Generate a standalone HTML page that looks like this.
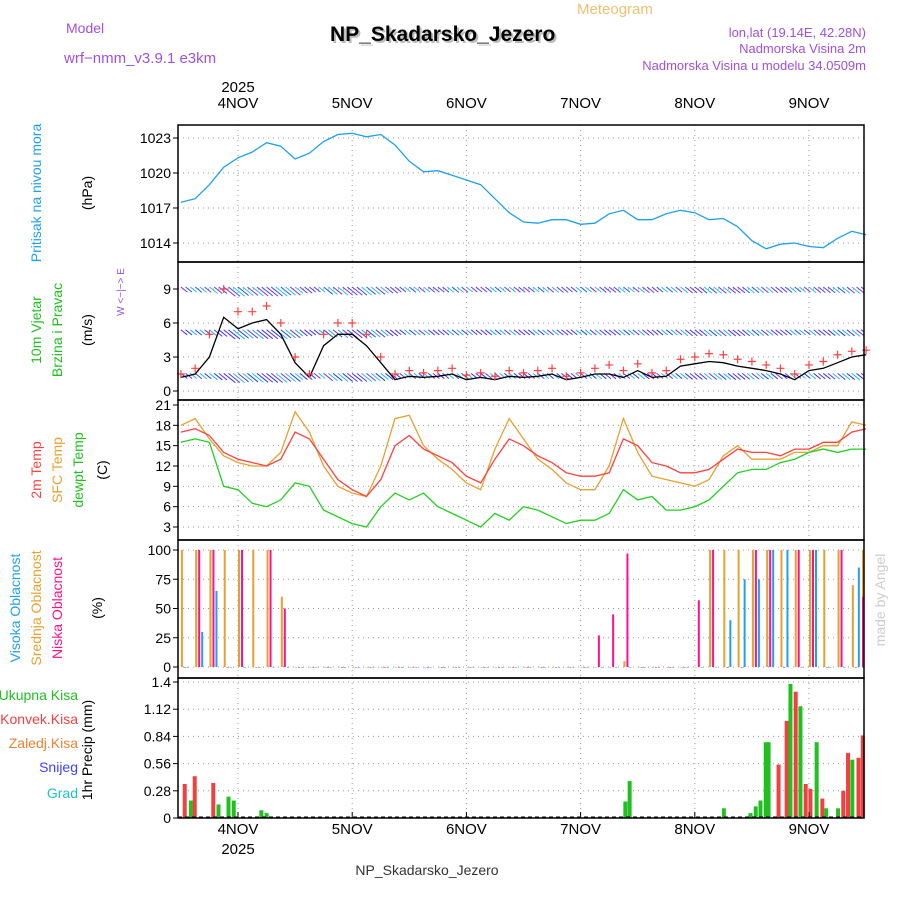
<!DOCTYPE html>
<html><head><meta charset="utf-8"><style>
body{margin:0;background:#fff}
svg text{font-family:"Liberation Sans",sans-serif}
</style></head><body>
<svg id="c" width="900" height="900" xmlns="http://www.w3.org/2000/svg">
<defs><clipPath id="windclip"><rect x="178" y="262" width="686" height="138"/></clipPath></defs>
<text x="66" y="33" fill="#a050e0" font-size="14">Model</text>
<text x="64" y="63" fill="#a050e0" font-size="15" font-family="Liberation Mono">wrf−nmm_v3.9.1 e3km</text>
<text x="577" y="14" fill="#f0c070" font-size="15">Meteogram</text>
<text x="332" y="43" fill="#bbb" font-size="21" font-weight="bold" font-family="Liberation Mono">NP_Skadarsko_Jezero</text>
<text x="330" y="41" fill="#000" font-size="21" font-weight="bold" font-family="Liberation Mono">NP_Skadarsko_Jezero</text>
<text x="866" y="37" fill="#a050e0" font-size="13" text-anchor="end">lon,lat (19.14E, 42.28N)</text>
<text x="866" y="53" fill="#a050e0" font-size="13" text-anchor="end">Nadmorska Visina 2m</text>
<text x="866" y="70" fill="#a050e0" font-size="13" text-anchor="end">Nadmorska Visina u modelu 34.0509m</text>
<text x="427" y="875" fill="#333" font-size="14" text-anchor="middle" font-family="Liberation Mono">NP_Skadarsko_Jezero</text>
<text x="885" y="600" fill="#ccc" font-size="14" text-anchor="middle" transform="rotate(-90 885 600)" font-family="Liberation Serif">made by Angel</text>
</svg>
<script>
const hours=[];for(let h=-12;h<=132;h+=3)hours.push(h);
const dayLabels=["4NOV","5NOV","6NOV","7NOV","8NOV","9NOV"];
const dayHours=[0,24,48,72,96,120];
const pressure=[1017.5,1017.8,1019,1020.5,1021.3,1021.8,1022.6,1022.3,1021.2,1021.7,1022.7,1023.3,1023.4,1023.1,1023.3,1022.4,1021,1020.1,1020.2,1019.8,1019.4,1019,1017.8,1016.6,1015.8,1015.7,1016,1016,1015.6,1015.7,1016.5,1016.8,1016,1016,1016.5,1016.8,1016.6,1016,1016.1,1015.4,1014.2,1013.5,1013.9,1014,1013.7,1013.6,1014.4,1015,1014.7];
const pressTicks=[1014,1017,1020,1023];
const windSpeed=[1.2,1.5,3,6.5,5.5,6,6.3,5,2.5,1.2,4,5,5,4,2.5,1,1.3,1.2,1.3,1.5,1,1.2,1,1.3,1.2,1.3,1.5,1,1.2,1.5,1.5,1.2,1.8,1.2,1.3,2.2,2.4,2.6,2.5,2.2,2,1.8,1.5,1,1.8,2,2.5,3,3.2];
const windGust=[1.5,2,5,9,7,7,7.5,6,3,1.5,5,6,6,5,3,1.5,1.8,1.6,1.8,2,1.4,1.6,1.3,1.8,1.6,1.8,2,1.3,1.6,2,2.3,1.8,2.4,1.6,1.8,2.8,3,3.3,3.2,2.8,2.6,2.3,2,1.5,2.3,2.6,3.2,3.5,3.6];
const windTicks=[0,3,6,9];
const temp2m=[17,17.5,16.5,14,13,12.5,12,13,17,16,13,10,8.5,7.5,10,15,16.5,14.5,13.5,12.5,10.5,9.5,13,16,15,13.5,12.5,11,10.5,10.5,11,16,15,12.5,12,11,11,11.5,13,14.5,14,14,13.5,14.5,14.5,15.5,15.5,17,17.5];
const tempSfc=[18,19,16,13.5,12.5,12,12,14,20,17,12,9,8,7.5,12,19,19.5,15,13,11.5,9.5,8.5,14.5,19,16,13,11.5,9.5,8.5,8.5,12,19,14,10.5,10,9.5,9,10,13.5,15,13,13,13,14,14,15,15,18.5,18];
const dewpt=[15.5,16,15.5,9,8.5,6.5,6,7,9.5,9,5.5,4.5,3.5,3,6,8,7,8,6,5,4,3,5,4,6,5.5,4.5,3.5,4,4,5,8.5,7,7.5,5.5,5.5,6,7,9,11,11.5,11.5,12.5,13,14,14.5,14,14.5,14.5];
const tempTicks=[3,6,9,12,15,18,21];
const cloudHigh=[0,30,65,0,0,0,0,0,0,0,0,0,0,0,0,0,0,0,0,0,0,0,0,0,0,0,0,0,0,0,0,0,0,0,0,0,0,0,40,75,75,100,100,0,100,0,0,85,0];
const cloudMid=[100,100,100,100,100,100,100,60,0,0,0,0,0,0,0,0,0,0,0,0,0,0,0,0,0,0,0,0,0,0,0,5,0,0,0,0,0,100,100,100,100,100,100,100,100,100,100,70,100];
const cloudLow=[0,100,100,0,100,0,100,50,0,0,0,0,0,0,0,0,0,0,0,0,0,0,0,0,0,0,0,0,0,27,45,97,0,0,0,0,57,100,0,0,100,100,0,100,100,0,100,0,60];
const cloudTicks=[0,25,50,75,100];
const precipHours=[-11.3,-10,-9.2,-5.3,-4.2,-2.1,-1,4.8,5.9,81.3,82.2,102,107.6,108.7,109.7,110.8,111.4,113.5,115.2,116,117.1,118.1,119.2,120.2,121.5,122.7,123.5,126,127.1,128.1,129,130.3,131.2];
const precipTotal=[0,0.18,0,0,0.14,0.22,0.18,0.08,0.05,0.17,0.38,0.1,0.05,0.12,0.18,0.78,0.78,0,0,1.38,0,1.15,0,0,0.78,0,0.1,0.1,0,0,0.6,0,0];
const precipConv=[0.35,0,0.43,0.36,0,0,0,0,0,0,0,0,0,0,0,0,0,0.55,1.0,0,1.3,0,0.35,0.3,0,0.2,0,0,0.28,0.67,0,0.62,0.85];
const precipTicks=[0,0.28,0.56,0.84,1.12,1.4];

const NS="http://www.w3.org/2000/svg",svg=document.getElementById('c');
const X0=178,X1=864;
const xs=h=>238+h*114.2/24;
function el(t,a,p){const e=document.createElementNS(NS,t);for(const k in a)e.setAttribute(k,a[k]);(p||svg).appendChild(e);return e;}
function lin(d0,d1,r0,r1){return v=>r0+(v-d0)*(r1-r0)/(d1-d0);}
const panels=[
 {y0:125,y1:262,ys:lin(1014,1023,243,138),ticks:pressTicks,fmt:v=>v,name:'pressure'},
 {y0:262,y1:400,ys:lin(0,9,391,289),ticks:windTicks,fmt:v=>v,name:'wind'},
 {y0:400,y1:540,ys:lin(3,21,527,405),ticks:tempTicks,fmt:v=>v,name:'temperature'},
 {y0:540,y1:678,ys:lin(0,100,667,550),ticks:cloudTicks,fmt:v=>v,name:'cloud'},
 {y0:678,y1:818,ys:lin(0,1.4,818,682),ticks:precipTicks,fmt:v=>v,name:'precip'}];
panels.forEach(p=>{
 dayHours.forEach(h=>{const l=el('line',{x1:xs(h),x2:xs(h),y1:p.y0,y2:p.y1,stroke:'#999','stroke-dasharray':'1,4'});
 
 });
 p.ticks.forEach(v=>{const y=p.ys(v);
  if(!(p.name=='precip'&&v==0)){const g=el('line',{x1:X0,x2:X1,y1:y,y2:y,stroke:'#999','stroke-dasharray':'1,4'});
  
  }
  el('line',{x1:X0-5,x2:X0,y1:y,y2:y,stroke:'#000'});
  const t=el('text',{x:X0-7,y:y+5,'text-anchor':'end','font-size':14});t.textContent=p.fmt(v);
  
  });
});
function line(arr,ys,color,name){const d=arr.map((v,i)=>(i?'L':'M')+xs(hours[i]).toFixed(1)+','+ys(v).toFixed(1)).join('');
 const p=el('path',{d:d,fill:'none',stroke:color,'stroke-width':1.3});
 
 return p;}
line(pressure,panels[0].ys,'#1ea0f0','pressure-line');
const rows=[{v:9,y:-2,c:['#8a2be2','#3050ff','#20c8d0']},{v:5.4,y:0,c:['#7030e0','#3040ff','#20b8d8']},{v:1.2,y:-4,c:['#2030ff','#7030e0','#20c0e0']}];
const g=el('g',{'clip-path':'url(#windclip)'});


hours.forEach((h,i)=>{rows.forEach((r,k)=>{for(let j=0;j<3;j++){const x=xs(h)+j*4.7;const y=panels[1].ys(r.v)+r.y;
 const len=7+windSpeed[i]*1.3;
 const a=el('line',{x1:x,y1:y,x2:x+len*0.75,y2:y+len*0.6,stroke:r.c[(i+j)%3],'stroke-width':1},g);
 
 }});});
line(windSpeed,panels[1].ys,'#000','wind-speed-line');
windGust.forEach((v,i)=>{const x=xs(hours[i]),y=panels[1].ys(v);
 const g2=el('path',{d:`M${x-4},${y}h8M${x},${y-4}v8`,stroke:'#ff4040','stroke-width':1.2});
 
 });
line(tempSfc,panels[2].ys,'#e8a030','sfc-temp-line');
line(temp2m,panels[2].ys,'#ff4040','temp-2m-line');
line(dewpt,panels[2].ys,'#20d020','dewpoint-line');
const cy=panels[3].ys;
hours.forEach((h,i)=>{[[cloudMid,'#e8a030',0,'mid-cloud-bar'],[cloudLow,'#ff1090',3,'low-cloud-bar'],[cloudHigh,'#20a0f0',6,'high-cloud-bar']].forEach(s=>{
 const v=s[0][i];const x=Math.min(xs(h)+s[2],X1-2);
 const b=el('rect',{x:x,y:cy(v),width:2,height:Math.max(cy(0)-cy(v),0.6),fill:s[1]});
 
 });});
const py=panels[4].ys;
precipHours.forEach((h,i)=>{const x=xs(h);
 if(precipTotal[i]>0){const b=el('rect',{x:x-1.5,y:py(precipTotal[i]),width:4,height:py(0)-py(precipTotal[i]),fill:'#20c020'});
 
 }
 if(precipConv[i]>0){const b=el('rect',{x:x-1.5,y:py(precipConv[i]),width:4,height:py(0)-py(precipConv[i]),fill:'#f04040'});
 
 }});
el('line',{x1:X0,x2:X1,y1:817,y2:817,stroke:'#000','stroke-dasharray':'4,3'});
panels.forEach(p=>{const r=el('rect',{x:X0,y:p.y0,width:X1-X0,height:p.y1-p.y0,fill:'none',stroke:'#000','stroke-width':1.5});
 
 });
dayHours.forEach((h,i)=>{[[108,'top'],[834,'bottom']].forEach(a=>{const t=el('text',{x:xs(h),y:a[0],'text-anchor':'middle','font-size':15});t.textContent=dayLabels[i];
 
 });
 el('line',{x1:xs(h),x2:xs(h),y1:818,y2:812,stroke:'#000'});});
[[92,'year-label-top'],[854,'year-label-bottom']].forEach(a=>{const t=el('text',{x:238,y:a[0],'text-anchor':'middle','font-size':15});t.textContent='2025';
 
 });
function vlab(x,y,txt,c,name,fs){const t=el('text',{x:x,y:y,'text-anchor':'middle','font-size':fs||14,fill:c,transform:`rotate(-90 ${x} ${y})`});t.textContent=txt;
 
 }
vlab(41,193,'Pritisak na nivou mora','#1ea0f0','pressure-title');
vlab(92,193,'(hPa)','#000','pressure-unit');
vlab(41,330,'10m Vjetar','#20c020','wind-title');
vlab(62,330,'Brzina i Pravac','#20c020','wind-title-2');
vlab(92,330,'(m/s)','#000','wind-unit');
vlab(124,292,'W <−|−> E','#a050e0','wind-direction-hint',10);
vlab(41,470,'2m Temp','#ff4040','temp-title');
vlab(62,470,'SFC Temp','#e8a030','sfc-title');
vlab(83,470,'dewpt Temp','#20c020','dewpt-title');
vlab(107,470,'(C)','#000','temp-unit');
vlab(20,608,'Visoka Oblacnost','#20a0f0','high-cloud-title');
vlab(41,608,'Srednja Oblacnost','#e8a030','mid-cloud-title');
vlab(62,608,'Niska Oblacnost','#ff1090','low-cloud-title');
vlab(102,608,'(%)','#000','cloud-unit');
vlab(92,750,'1hr Precip (mm)','#000','precip-title');
[['Ukupna Kisa','#20c020',700],['Konvek.Kisa','#f04040',724],['Zaledj.Kisa','#f08030',748],['Snijeg','#4040ff',772],['Grad','#20c0d0',798]].forEach(a=>{
 const t=el('text',{x:78,y:a[2],'text-anchor':'end','font-size':14,fill:a[1]});t.textContent=a[0];
 
 });
</script></body></html>
